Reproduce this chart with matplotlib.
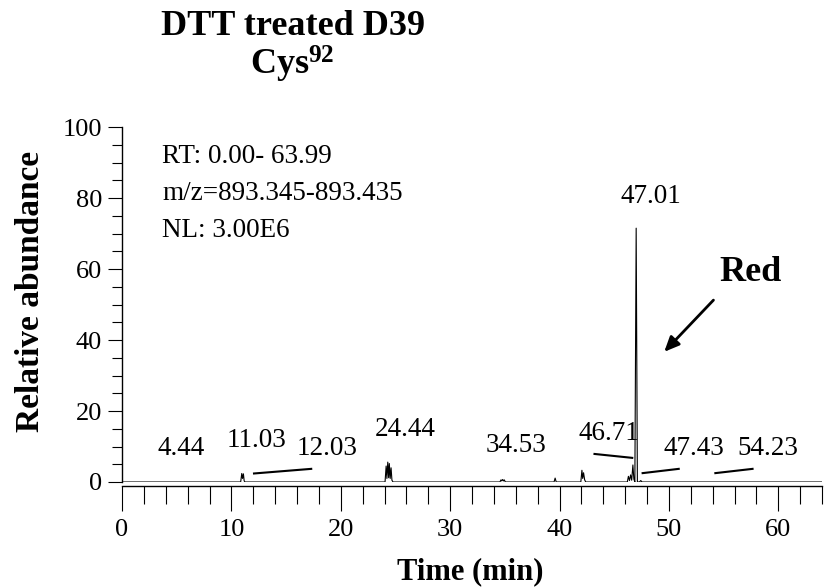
import matplotlib
matplotlib.use('Agg')
import matplotlib.pyplot as plt
from matplotlib.ticker import MultipleLocator

plt.rcParams['font.family'] = 'Liberation Serif'
plt.rcParams['mathtext.fontset'] = 'custom'
plt.rcParams['mathtext.bf'] = 'Liberation Serif:bold'
plt.rcParams['mathtext.rm'] = 'Liberation Serif'

# chromatogram trace (time in min, relative abundance)
rt = [0.0, 10.85, 10.95, 11.02, 11.1, 11.17, 11.25,
      24.05, 24.15, 24.22, 24.3, 24.38, 24.44, 24.52, 24.6, 24.68, 24.78,
      34.55, 34.65, 34.72, 34.8, 34.88, 34.95, 35.05,
      39.5, 39.6, 39.7,
      41.95, 42.05, 42.12, 42.2, 42.3, 42.4,
      46.2, 46.3, 46.4, 46.5, 46.6, 46.71, 46.8, 46.86,
      46.89, 47.01, 47.12,
      47.3, 47.43, 47.55, 64.0]
abund = [0, 0, 2.4, 1.0, 2.3, 0.3, 0,
         0, 4.5, 1.0, 5.6, 1.2, 5.2, 1.0, 4.0, 0.5, 0,
         0, 0.6, 0.3, 0.7, 0.3, 0.6, 0,
         0, 1.1, 0,
         0, 3.3, 1.0, 2.6, 0.6, 0,
         0, 1.6, 0.4, 2.0, 0.5, 4.8, 0.8, 0.3,
         0, 71.5, 0,
         0, 0.4, 0, 0]

# peak labels: text, centre x, baseline y
peak_labels = ['4.44', '11.03', '12.03', '24.44', '34.53', '46.71', '47.01', '47.43', '54.23']
label_x = [5.4, 12.31, 18.76, 25.85, 36.0, 44.47, 48.35, 52.24, 59.01]
label_y = [7.6, 9.86, 7.6, 12.96, 8.55, 11.83, 78.6, 7.6, 7.6]

# leader lines for labels that sit away from their peak
leaders = [((12.07, 2.4), (17.3, 3.7)),
           ((43.2, 7.9), (46.65, 6.8)),
           ((47.6, 2.5), (50.9, 3.7)),
           ((54.25, 2.5), (57.65, 3.7))]

fig = plt.figure(figsize=(8.27, 5.88), dpi=100)
ax = fig.add_axes([122/827, 1 - 482/588, 700/827, 355/588])

ax.plot(rt, abund, color='black', lw=0.8)
ax.set_xlim(0, 64)
ax.set_ylim(0, 100)

for s in ['top', 'right']:
    ax.spines[s].set_visible(False)
ax.spines['bottom'].set_position(('outward', 3))
ax.spines['bottom'].set_linewidth(1.0)
ax.spines['left'].set_linewidth(1.0)

ax.xaxis.set_major_locator(MultipleLocator(10))
ax.xaxis.set_minor_locator(MultipleLocator(2))
ax.yaxis.set_major_locator(MultipleLocator(20))
ax.yaxis.set_minor_locator(MultipleLocator(5))
ax.tick_params(axis='x', which='major', direction='out', length=18, width=0.8, labelsize=19, pad=6)
ax.tick_params(axis='x', which='minor', direction='out', length=13, width=0.8)
ax.tick_params(axis='y', which='major', direction='out', length=10, width=0.8, labelsize=19, pad=4.3)
ax.tick_params(axis='y', which='minor', direction='out', length=7, width=0.8)

ax.set_xlabel('Time (min)', fontsize=22, fontweight='bold', va='baseline')
ax.xaxis.set_label_coords(0.497, -0.273)
ax.set_ylabel('Relative abundance', fontsize=24, fontweight='bold')
ax.yaxis.set_label_coords(-0.108, 0.538)

for t, x, y in zip(peak_labels, label_x, label_y):
    ax.text(x, y, t, fontsize=19.5, ha='center', va='baseline')
for (x0, y0), (x1, y1) in leaders:
    ax.plot([x0, x1], [y0, y1], color='black', lw=1.5)

ax.text(0.0571, 0.8986, 'RT: 0.00- 63.99', transform=ax.transAxes, fontsize=19.5, va='baseline')
ax.text(0.0571, 0.794, 'm/z=893.345-893.435', transform=ax.transAxes, fontsize=19.5, va='baseline')
ax.text(0.0571, 0.690, 'NL: 3.00E6', transform=ax.transAxes, fontsize=19.5, va='baseline')

ax.text(57.5, 56.6, 'Red', fontsize=26, fontweight='bold', ha='center', va='baseline')
ax.annotate('', xy=(49.4, 36.1), xytext=(54.25, 51.8),
            arrowprops=dict(arrowstyle='-|>,head_length=0.9,head_width=0.4', color='black', lw=2))

fig.text(0.354, 0.9405, 'DTT treated D39', fontsize=26, fontweight='bold', ha='center', va='baseline')
fig.text(0.3535, 0.8724, r'$\mathbf{Cys^{92}}$', fontsize=26, ha='center', va='baseline')

fig.savefig('out.png', dpi=100)
